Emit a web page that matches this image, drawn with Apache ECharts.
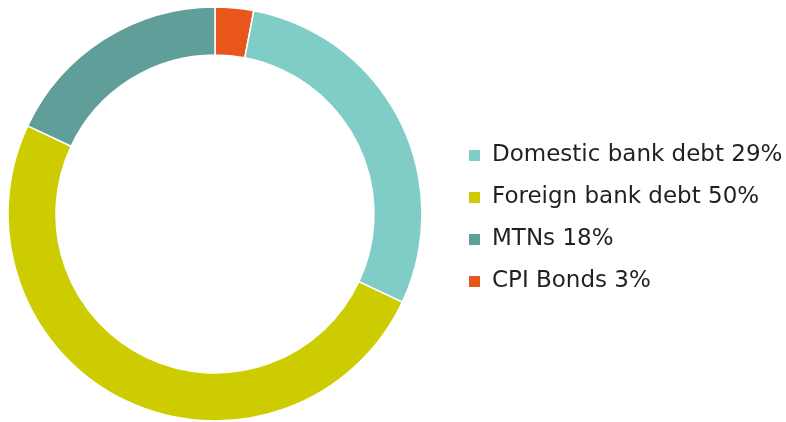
<!DOCTYPE html>
<html>
<head>
<meta charset="utf-8">
<script src="https://cdn.jsdelivr.net/npm/echarts@6/dist/echarts.min.js"></script>
<style>
    html, body { margin: 0; padding: 0; background: #fff; }
    #chart { width: 786px; height: 422px; }
</style>
</head>
<body>
<div id="chart"></div>
<script>
// data, in clockwise drawing order from 12 o'clock
const names = ['CPI Bonds', 'Domestic bank debt', 'Foreign bank debt', 'MTNs'];
const shares = [3, 29, 50, 18];
const colors = ['#e8561c', '#80cdc8', '#cccc00', '#5f9e99'];
// legend order
const legendOrder = ['Domestic bank debt', 'Foreign bank debt', 'MTNs', 'CPI Bonds'];

const myChart = echarts.init(document.getElementById('chart'));

const pieData = names.map((n, i) => ({
    name: n,
    value: shares[i],
    itemStyle: { color: colors[i] }
}));

const option = {
    animation: false,
    legend: {
        orient: 'vertical',
        left: 467,
        top: 144,
        padding: 0,
        data: legendOrder,
        icon: 'rect',
        itemWidth: 13,
        itemHeight: 13,
        itemGap: 19,
        textStyle: {
            color: '#231f20',
            fontSize: 23,
            lineHeight: 23,
            fontFamily: 'DejaVu Sans',
            padding: [0, 0, 0, 6]
        },
        formatter: function (name) {
            return name + ' ' + shares[names.indexOf(name)] + '%';
        }
    },
    series: [
        {
            type: 'pie',
            center: [215, 214],
            radius: [159, 207],
            startAngle: 90,
            clockwise: true,
            label: { show: false },
            labelLine: { show: false },
            itemStyle: {
                borderColor: '#ffffff',
                borderWidth: 1.5
            },
            emphasis: { disabled: true },
            data: pieData
        }
    ]
};

myChart.setOption(option);
</script>
</body>
</html>
